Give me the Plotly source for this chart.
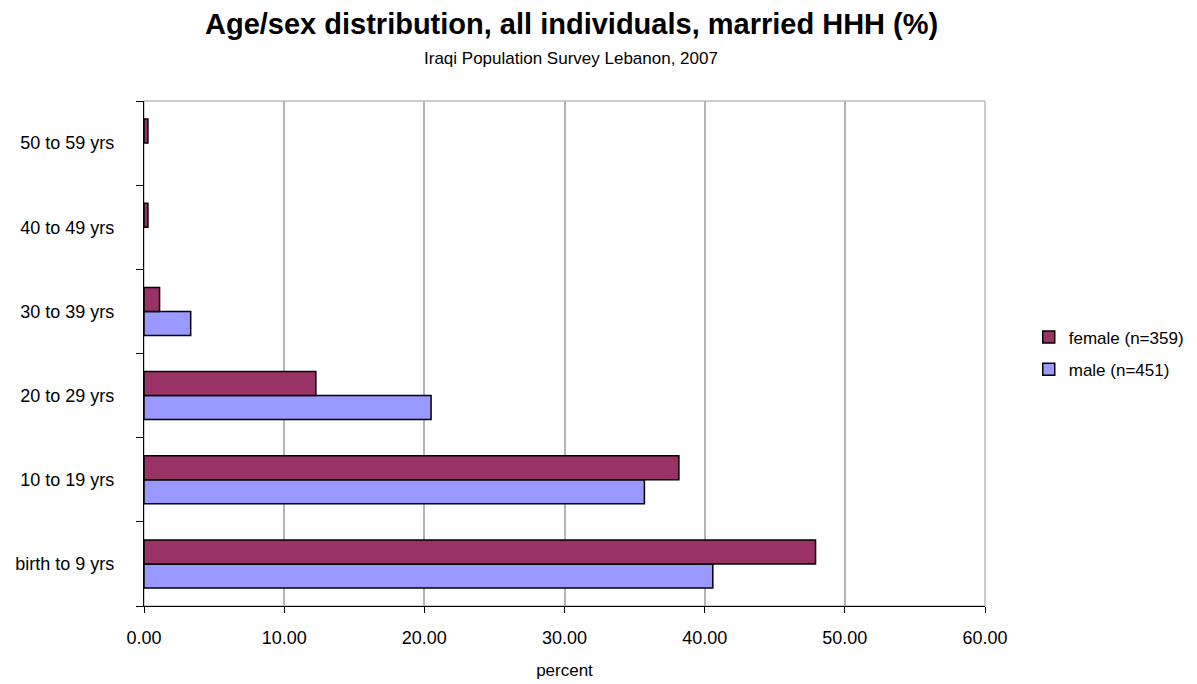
import plotly.graph_objects as go

# Age groups and shares (%) of individuals in households with a married head
age_groups = ["birth to 9 yrs", "10 to 19 yrs", "20 to 29 yrs", "30 to 39 yrs", "40 to 49 yrs", "50 to 59 yrs"]
female_pct = [47.91, 38.16, 12.26, 1.11, 0.28, 0.28]
male_pct = [40.58, 35.70, 20.48, 3.33, 0.0, 0.0]
x_ticks = [0, 10, 20, 30, 40, 50, 60]

FONT = "Liberation Sans, Arial, sans-serif"


def outline_widths(values):
    # no outline on empty bars, so a zero share leaves no sliver on the axis
    return [1.5 if v > 0 else 0 for v in values]


fig = go.Figure()
fig.add_trace(go.Bar(
    y=age_groups, x=male_pct, orientation="h", name="male (n=451)",
    legendgroup="m", legendrank=2,
    marker=dict(color="#9999FF", line=dict(color="#000000", width=outline_widths(male_pct))),
))
fig.add_trace(go.Bar(
    y=age_groups, x=female_pct, orientation="h", name="female (n=359)",
    legendgroup="f", legendrank=1,
    marker=dict(color="#993366", line=dict(color="#000000", width=outline_widths(female_pct))),
))

fig.update_layout(
    width=1197, height=684,
    margin=dict(l=144, r=212, t=101, b=78, autoexpand=False),
    paper_bgcolor="white", plot_bgcolor="white",
    barmode="group", bargap=0.43, bargroupgap=0,
    font=dict(family=FONT, size=18, color="#000000"),
    showlegend=True,
    legend=dict(
        traceorder="grouped", x=1.052, y=0.5, xanchor="left", yanchor="middle",
        font=dict(size=17), itemwidth=30, tracegroupgap=7,
    ),
    shapes=[dict(type="rect", xref="paper", yref="paper", x0=0, x1=1, y0=0, y1=1,
                 line=dict(color="#9a9a9a", width=1), layer="below")],
    annotations=[
        dict(text="<b>Age/sex distribution, all individuals, married HHH (%)</b>",
             xref="paper", yref="paper", x=0.508, y=1, yshift=77, showarrow=False,
             font=dict(size=29, family=FONT), xanchor="center", yanchor="middle"),
        dict(text="Iraqi Population Survey Lebanon, 2007",
             xref="paper", yref="paper", x=0.508, y=1, yshift=43, showarrow=False,
             font=dict(size=17, family=FONT), xanchor="center", yanchor="middle"),
    ],
)

fig.update_xaxes(
    range=[0, 60], tickvals=x_ticks, ticktext=[f"{v:.2f}" for v in x_ticks],
    showgrid=True, gridcolor="#b4b4b4", gridwidth=1.5,
    showline=True, linecolor="#000000", linewidth=1.2,
    ticks="outside", ticklen=6, tickcolor="#000000", tickwidth=1.2,
    ticklabelstandoff=9,
    zeroline=False,
    title=dict(text="percent", font=dict(size=17), standoff=17),
)
fig.update_yaxes(
    type="category", categoryorder="array", categoryarray=age_groups,
    showgrid=False, showline=True, linecolor="#000000", linewidth=1.2,
    ticks="outside", tickson="boundaries", ticklen=7, tickcolor="#000000", tickwidth=1.2,
    ticklabelstandoff=25,
)

fig.write_html("out.html")
